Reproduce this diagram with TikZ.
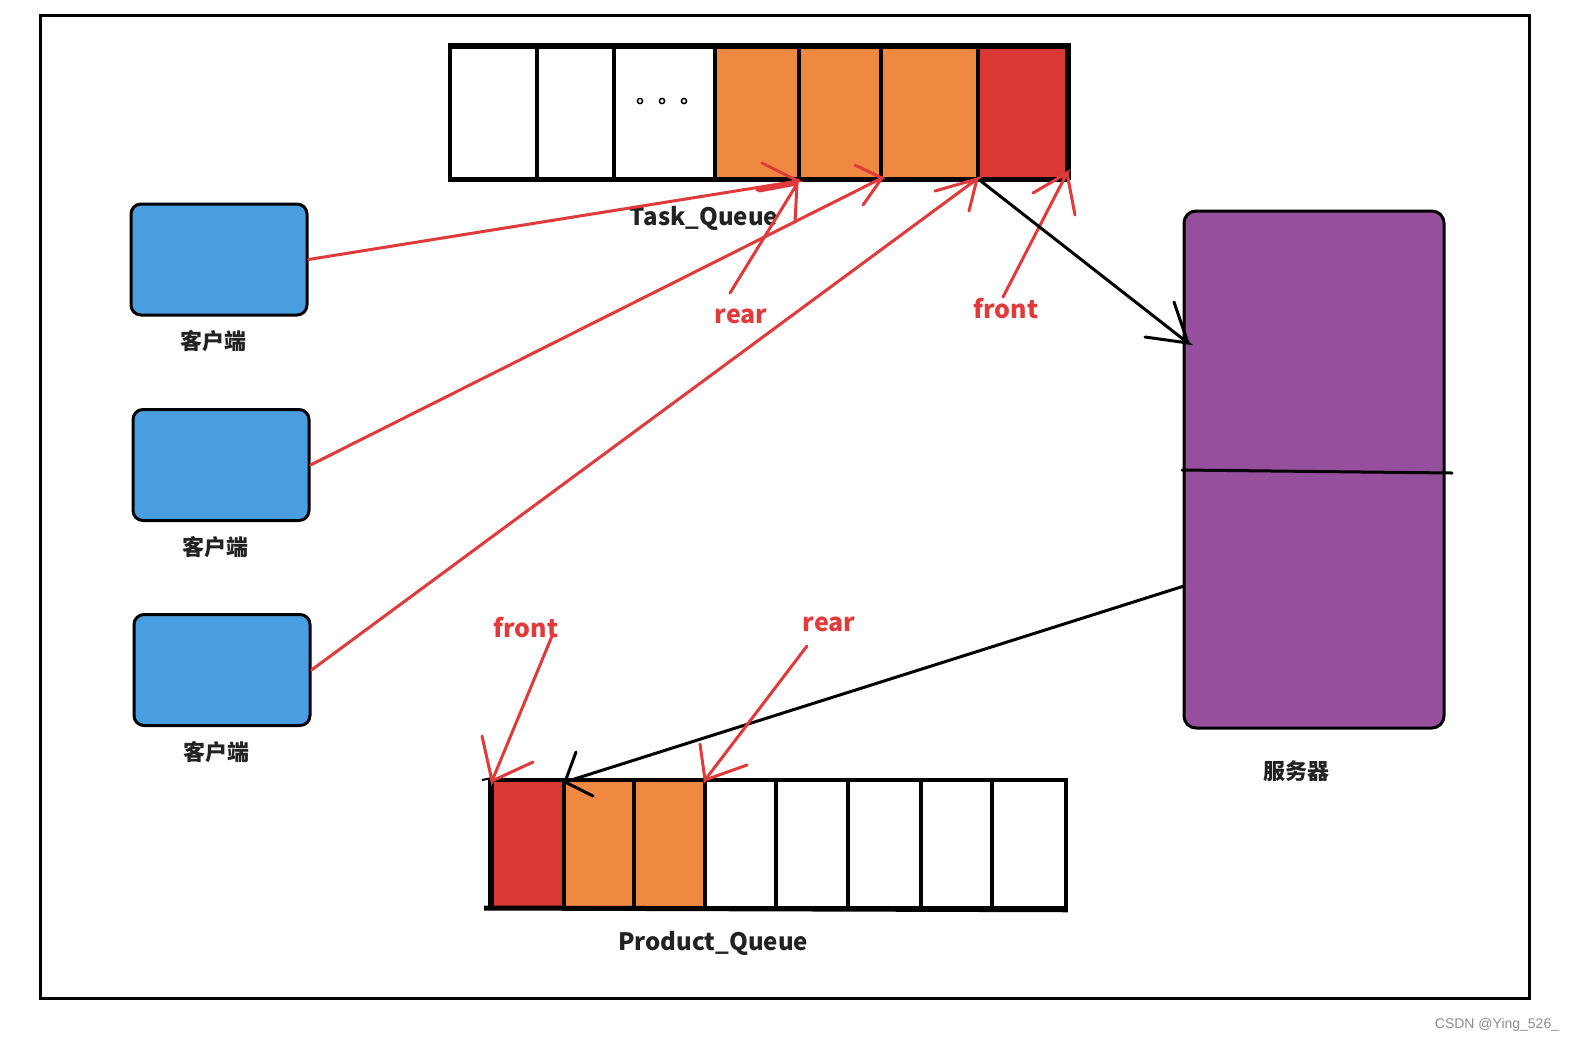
\documentclass[tikz,border=0pt]{standalone}
\usepackage{fontspec}
\setmainfont{Noto Sans CJK SC}
\newfontfamily\wmfont{Liberation Sans}
\usetikzlibrary{calc}
\definecolor{qorange}{RGB}{239,136,65}
\definecolor{qred}{RGB}{218,56,50}
\definecolor{cblue}{RGB}{72,158,224}
\definecolor{spurple}{RGB}{149,79,157}
\definecolor{ared}{RGB}{224,58,58}
\definecolor{txtgray}{RGB}{34,34,34}
\begin{document}
\begin{tikzpicture}[x=1pt,y=-1pt,
  tcell/.style={draw, line width=3.5pt, minimum height=131pt, inner sep=0pt, fill=white},
  pcell/.style={draw, line width=3.5pt, minimum height=128pt, inner sep=0pt, fill=white},
  client/.style={draw, line width=3pt, rounded corners=10pt, fill=cblue, minimum width=176pt, minimum height=111pt, inner sep=0pt},
  server/.style={draw, line width=3pt, rounded corners=12pt, fill=spurple, minimum width=260pt, minimum height=517pt, inner sep=0pt},
  lbl/.style={font=\fontsize{22}{22}\selectfont\bfseries, text=txtgray, inner sep=0pt},
  qlbl/.style={font=\fontsize{24}{24}\selectfont\bfseries, text=txtgray, inner sep=0pt},
  rlbl/.style={font=\fontsize{25}{25}\selectfont\bfseries, text=ared, inner sep=0pt},
  redline/.style={draw=ared, line width=3pt, line cap=round},
  blkline/.style={draw=black, line width=3pt, line cap=round},
]
\useasboundingbox (0,0) rectangle (1576,1042);
\fill[white] (0,0) rectangle (1576,1042);
% frame
\draw[line width=3pt] (40,15) rectangle (1529,998);

% task queue
\node[tcell, minimum width=87pt] (t1) at (493.5,113) {};
\node[tcell, minimum width=77pt] (t2) at (575.5,113) {};
\node[tcell, minimum width=101pt] (t3) at (664.5,113) {};
\node[tcell, minimum width=84pt, fill=qorange] (t4) at (757,113) {};
\node[tcell, minimum width=82pt, fill=qorange] (t5) at (840,113) {};
\node[tcell, minimum width=97pt, fill=qorange] (t6) at (929.5,113) {};
\node[tcell, minimum width=89pt, fill=qred] (t7) at (1022.5,113) {};
\draw[line width=5pt] (t1.north west) -- (t7.north east) -- (t7.south east);
\draw[line width=4pt] (t1.south west) -- (t7.south east);
\foreach \xx in {640,662,684} \draw[line width=1.5pt] (\xx,101) circle (2.6pt);
\node[qlbl] (tql) at (704,218) {Task\_Queue};

% product queue
\node[pcell, minimum width=72pt, fill=qred] (p1) at (528,844) {};
\node[pcell, minimum width=70pt, fill=qorange] (p2) at (599,844) {};
\node[pcell, minimum width=71pt, fill=qorange] (p3) at (669.5,844) {};
\node[pcell, minimum width=71pt] (p4) at (740.5,844) {};
\node[pcell, minimum width=72pt] (p5) at (812,844) {};
\node[pcell, minimum width=73pt] (p6) at (884.5,844) {};
\node[pcell, minimum width=71pt] (p7) at (956.5,844) {};
\node[pcell, minimum width=74pt] (p8) at (1029,844) {};
\draw[line width=5pt] (484,908) -- (p8.south east);
\draw[line width=2pt] (482,780) -- (p1.north west);
\draw[line width=4pt] (p1.north west) -- (p1.south west);
\node[qlbl] (pql) at (713,943) {Product\_Queue};

% clients
\node[client] (c1) at (219,259.5) {};
\node[client] (c2) at (221,465) {};
\node[client] (c3) at (222,670) {};
\node[lbl] (l1) at (213,341) {客户端};
\node[lbl] (l2) at (215,547) {客户端};
\node[lbl] (l3) at (216,752) {客户端};

% server
\node[server] (srv) at (1314,469.5) {};
\draw[blkline] (1182,470) -- (1452,473);
\node[lbl] (sl) at (1296,771) {服务器};

% labels
\node[rlbl] (rt) at (741,316) {rear};
\node[rlbl] (ft) at (1006,309) {front};
\node[rlbl] (fb) at (526,628) {front};
\node[rlbl] (rb) at (829,624) {rear};

% coordinates
\coordinate (s-in) at (1188,343);
\coordinate (s-out) at (1184,586);
\coordinate (tip-p2) at (565,782);
\coordinate (rt-start) at (730,293);
\coordinate (ft-start) at (1003,297);
\coordinate (fb-start) at (552,636);
\coordinate (rb-start) at (807,646);
\coordinate (tip-a1) at (798,181);
\coordinate (tip-rt) at (797,184);
\coordinate (tip-a2) at (882,178);
\coordinate (tip-a3) at (977,179);
\coordinate (tip-ft) at (1067,173);
\coordinate (tip-fb) at (492,781);
\coordinate (tip-rb) at (705,780);

% red arrows top
\draw[redline] (c1.east) -- (tip-a1) -- ++(-36,-18);
\draw[redline] (tip-a1) -- ++(-41,9);
\draw[redline] (rt-start) -- (tip-rt) -- ++(-2,38);
\draw[redline] (tip-rt) -- ++(-38,7);
\draw[redline] (c2.east) -- (tip-a2) -- ++(-27,-13);
\draw[redline] (tip-a2) -- ++(-19,27);
\draw[redline] (c3.east) -- (tip-a3) -- ++(-42,12);
\draw[redline] (tip-a3) -- ++(-8,32);
\draw[redline] (ft-start) -- (tip-ft) -- ++(-34,20);
\draw[redline] (tip-ft) -- ++(8,42);

% black arrows
\draw[blkline] (t6.south east) -- (s-in) -- ++(-43,-6);
\draw[blkline] (s-in) -- ++(-14,-41);
\draw[blkline] (s-out) -- (tip-p2) -- ++(11,-30);
\draw[blkline] (tip-p2) -- ++(28,14);

% red arrows bottom
\draw[redline] (fb-start) -- (tip-fb) -- ++(-10,-45);
\draw[redline] (tip-fb) -- ++(41,-19);
\draw[redline] (rb-start) -- (tip-rb) -- ++(-5,-36);
\draw[redline] (tip-rb) -- ++(42,-15);

% watermark
\node[font=\wmfont\fontsize{14}{14}\selectfont, text=black!45, inner sep=0pt] (wm) at (1497,1025) {CSDN @Ying\_526\_};
\end{tikzpicture}
\end{document}
